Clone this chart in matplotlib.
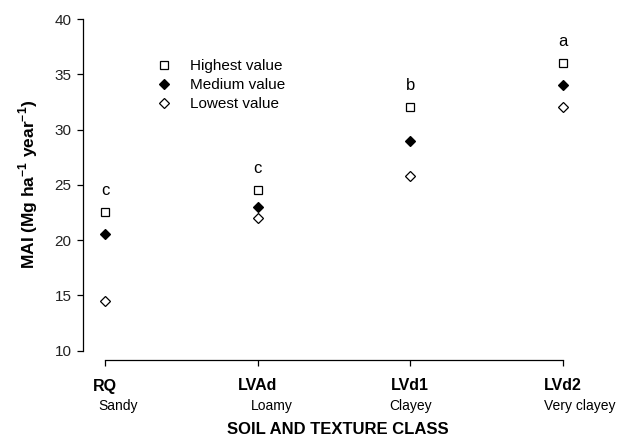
import matplotlib
matplotlib.use("Agg")
import matplotlib.pyplot as plt

plt.rcParams['font.family'] = ['Liberation Sans', 'DejaVu Sans']
plt.rcParams['mathtext.fontset'] = 'custom'
plt.rcParams['mathtext.rm'] = 'Liberation Sans'
plt.rcParams['mathtext.bf'] = 'Liberation Sans:bold'

# ---- data ----
soil_codes = ["RQ", "LVAd", "LVd1", "LVd2"]
textures = ["Sandy", "Loamy", "Clayey", "Very clayey"]
highest = [22.5, 24.5, 32.0, 36.0]
medium = [20.5, 23.0, 29.0, 34.0]
lowest = [14.5, 22.0, 25.8, 32.0]
letters = ["c", "c", "b", "a"]
y_ticks = [10, 15, 20, 25, 30, 35, 40]

W, H = 619, 441
fig = plt.figure(figsize=(W / 100, H / 100), dpi=100)
ax_l, ax_r, ax_t, ax_b = 82.7, 610, 19, 350.5
ax = fig.add_axes([ax_l / W, 1 - ax_b / H, (ax_r - ax_l) / W, (ax_b - ax_t) / H])

x = list(range(len(soil_codes)))
unit = (563 - 105) / 3
ax.set_xlim((ax_l - 105) / unit, (ax_r - 105) / unit)
ax.set_ylim(10, 40)

h1, = ax.plot(x, highest, ls='none', marker='s', ms=5.8, mfc='white', mec='black', mew=0.9,
              label='Highest value')
h2, = ax.plot(x, medium, ls='none', marker='D', ms=5.5, mfc='black', mec='black', mew=0.9,
              label='Medium value')
h3, = ax.plot(x, lowest, ls='none', marker='D', ms=5.5, mfc='white', mec='black', mew=0.9,
              label='Lowest value')

for xi, hv, lt in zip(x, highest, letters):
    ax.annotate(lt, xy=(xi, hv), xytext=(0, 22), textcoords='offset pixels',
                ha='center', va='center', fontsize=12)

# spines
for s in ['top', 'right']:
    ax.spines[s].set_visible(False)
ax.spines['left'].set_linewidth(0.9)
ax.spines['bottom'].set_linewidth(0.9)
ax.spines['bottom'].set_position(('outward', 9.5 * 72 / 100))
ax.spines['bottom'].set_bounds(0, 3)

ax.set_yticks(y_ticks)
ax.tick_params(axis='y', direction='out', length=4, width=0.9, labelsize=11, pad=4,
               labelcolor='#222222')
ax.set_xticks(x)
ax.set_xticklabels([])
ax.tick_params(axis='x', direction='out', length=4, width=0.9)

for xi, code in zip(x, soil_codes):
    ax.annotate(code, xy=(xi, 0), xycoords=('data', 'axes fraction'), xytext=(0, -35.5),
                textcoords='offset pixels', ha='center', va='center', fontsize=11.5,
                fontweight='bold')
for xi, tex, off in zip(x, textures, [13, 14, 0, 17]):
    ax.annotate(tex, xy=(xi, 0), xycoords=('data', 'axes fraction'), xytext=(off, -55.5),
                textcoords='offset pixels', ha='center', va='center', fontsize=10)

ax.set_ylabel(r"MAI (Mg ha$^{\mathbf{-1}}$ year$^{\mathbf{-1}}$)", fontsize=12.5, fontweight='bold')
ax.yaxis.set_label_coords((40 - ax_l) / (ax_r - ax_l), 0.5)

fig.text(338 / W, 1 - 430 / H, "SOIL AND TEXTURE CLASS", ha='center', va='center',
         fontsize=12, fontweight='bold')

leg = ax.legend(handles=[h1, h2, h3], loc='upper left',
                bbox_to_anchor=((156 - ax_l) / (ax_r - ax_l), (ax_b - 59) / (ax_b - ax_t)),
                frameon=False, borderpad=0, borderaxespad=0, handlelength=1.0,
                handletextpad=1.25, labelspacing=0.33, fontsize=11, numpoints=1)

fig.savefig("out.png", dpi=100)
